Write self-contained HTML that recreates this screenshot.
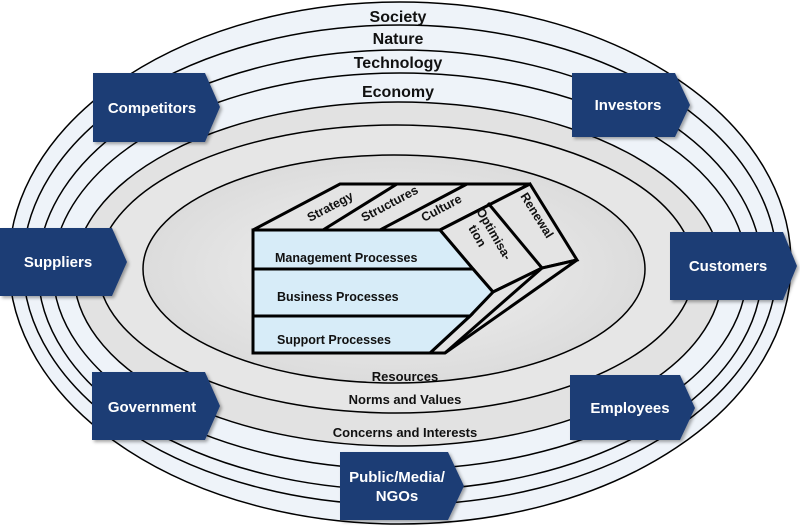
<!DOCTYPE html>
<html><head><meta charset="utf-8"><style>body{margin:0;background:#fff}svg{display:block}</style></head><body>
<svg width="800" height="530" viewBox="0 0 800 530" xmlns="http://www.w3.org/2000/svg" font-family="Liberation Sans, Arial, sans-serif" font-weight="bold">
<defs>
<radialGradient id="g" cx="0.5" cy="0.5" r="0.5"><stop offset="0" stop-color="#f2f2f2"/><stop offset="1" stop-color="#dcdcdc"/></radialGradient>
<filter id="s" x="-10%" y="-10%" width="130%" height="130%"><feDropShadow dx="2" dy="2" stdDeviation="1.5" flood-opacity="0.35"/></filter>
</defs>
<g stroke="#000" stroke-width="1.5">
<ellipse cx="400" cy="263" rx="391" ry="261" fill="#eef3f9"/>
<ellipse cx="400" cy="265" rx="377" ry="240" fill="#eef3f9"/>
<ellipse cx="400" cy="270" rx="362" ry="220" fill="#eef3f9"/>
<ellipse cx="400" cy="271" rx="347" ry="198" fill="#eef3f9"/>
<ellipse cx="398" cy="274" rx="324" ry="172" fill="#e2e2e2"/>
<ellipse cx="396" cy="269" rx="298" ry="144" fill="#e6e6e6"/>
<ellipse cx="394" cy="269" rx="251" ry="114" fill="url(#g)"/>
</g>
<g font-size="16" text-anchor="middle" fill="#111">
<text x="398" y="22">Society</text><text x="398" y="44">Nature</text><text x="398" y="68">Technology</text><text x="398" y="97">Economy</text>
</g>
<g font-size="13" text-anchor="middle" fill="#111">
<text x="405" y="381">Resources</text><text x="405" y="404">Norms and Values</text><text x="405" y="437">Concerns and Interests</text>
</g>
<g stroke="#000" stroke-width="3" stroke-linejoin="miter">
<polygon points="253,230 340,184 530,184 440,230" fill="#e4e4e4"/>
<polygon points="440,230 530,184 577,260 542,268 493,292 473,269" fill="#e4e4e4"/>
<polygon points="493,292 542,268 577,260 445,353 430,353 470,316" fill="#e4e4e4"/>
<polygon points="253,230 440,230 473,269 253,269" fill="#d7ecf8"/>
<polygon points="253,269 473,269 493,292 470,316 253,316" fill="#d7ecf8"/>
<polygon points="253,316 470,316 430,353 253,353" fill="#d7ecf8"/>
<line x1="323" y1="230" x2="397" y2="184"/>
<line x1="380" y1="230" x2="467" y2="184"/>
<line x1="488" y1="203" x2="542" y2="268"/>
<line x1="542" y1="268" x2="445" y2="353"/>
</g>
<g font-size="12.5" fill="#111">
<text x="275" y="262">Management Processes</text>
<text x="277" y="301">Business Processes</text>
<text x="277" y="344">Support Processes</text>
<text x="0" y="0" transform="translate(310,222) rotate(-28)">Strategy</text>
<text x="0" y="0" transform="translate(364,222) rotate(-28)">Structures</text>
<text x="0" y="0" transform="translate(424,222) rotate(-28)">Culture</text>
<text x="0" y="0" transform="translate(476,211) rotate(60)">Optimisa-</text>
<text x="0" y="0" transform="translate(468,228) rotate(60)">tion</text>
<text x="0" y="0" transform="translate(520,196) rotate(58)">Renewal</text>
</g>
<g fill="#1f3c74" filter="url(#s)">
<polygon points="93,73 205,73 220,107 205,142 93,142"/>
<polygon points="572,73 675,73 690,105 675,137 572,137"/>
<polygon points="0,228 112,228 127,262 112,296 0,296"/>
<polygon points="670,232 783,232 797,266 783,300 670,300"/>
<polygon points="92,372 205,372 220,406 205,440 92,440"/>
<polygon points="570,375 680,375 695,408 680,440 570,440"/>
<polygon points="340,452 448,452 464,486 448,520 340,520"/>
</g>
<g font-size="15" fill="#fff" text-anchor="middle">
<text x="152" y="113">Competitors</text>
<text x="628" y="110">Investors</text>
<text x="58" y="267">Suppliers</text>
<text x="728" y="271">Customers</text>
<text x="152" y="412">Government</text>
<text x="630" y="413">Employees</text>
<text x="397" y="482">Public/Media/</text>
<text x="397" y="501">NGOs</text>
</g>
</svg>
</body></html>
